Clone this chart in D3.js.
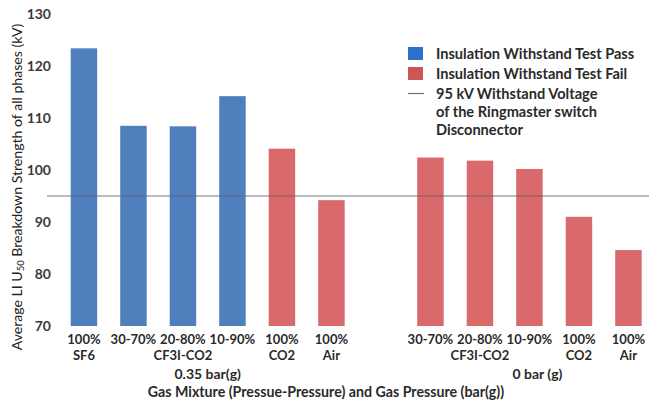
<!DOCTYPE html>
<html><head><meta charset="utf-8">
<script src="https://cdn.jsdelivr.net/npm/d3@7"></script>
<style>
body{margin:0;background:#fff;}
svg{display:block;font-family:Lato,"Open Sans",sans-serif;}
</style></head>
<body>
<svg id="c" width="649" height="406"></svg>
<script>
// Data
const slots = ["a0","a1","a2","a3","a4","a5","gap","b0","b1","b2","b3","b4"];
const bars = [
  {slot:"a0", line1:"100%",   line2:"SF6",  value:123.4, pass:true},
  {slot:"a1", line1:"30-70%", line2:"",     value:108.5, pass:true},
  {slot:"a2", line1:"20-80%", line2:"CF3I-CO2", value:108.4, pass:true},
  {slot:"a3", line1:"10-90%", line2:"",     value:114.2, pass:true},
  {slot:"a4", line1:"100%",   line2:"CO2",  value:104.1, pass:false},
  {slot:"a5", line1:"100%",   line2:"Air",  value:94.2,  pass:false},
  {slot:"b0", line1:"30-70%", line2:"",     value:102.4, pass:false},
  {slot:"b1", line1:"20-80%", line2:"CF3I-CO2", value:101.8, pass:false},
  {slot:"b2", line1:"10-90%", line2:"",     value:100.2, pass:false},
  {slot:"b3", line1:"100%",   line2:"CO2",  value:91.0,  pass:false},
  {slot:"b4", line1:"100%",   line2:"Air",  value:84.6,  pass:false}
];
const groups = [
  {label:"0.35 bar(g)", from:"a0", to:"a5", dx:0},
  {label:"0 bar (g)",   from:"b0", to:"b4", dx:8}
];
const yTicks = [70,80,90,100,110,120,130];
const withstand = 95;
const legendItems = [
  {type:"rect", color:"#2e6fc9", lines:["Insulation Withstand Test Pass"]},
  {type:"rect", color:"#cc5656", lines:["Insulation Withstand Test Fail"]},
  {type:"line", color:"#6b7178", lines:["95 kV Withstand Voltage","of the Ringmaster switch","Disconnector"]}
];

const svg = d3.select("#c");
const x = d3.scaleBand().domain(slots).range([59.2, 653.2]).paddingInner(0.465).paddingOuter(0.2325);
const y = d3.scaleLinear().domain([70,130]).range([326,14]);

// y tick labels
svg.append("g").selectAll("text").data(yTicks).join("text")
  .attr("x",51).attr("y",d=>y(d)).attr("dy","0.35em")
  .attr("text-anchor","end").attr("font-size",14).attr("font-weight","bold").attr("fill","#3a3a3a")
  .text(d=>d);

// bars
svg.append("g").selectAll("rect").data(bars).join("rect")
  .attr("x",d=>x(d.slot)).attr("width",x.bandwidth())
  .attr("y",d=>y(d.value)).attr("height",d=>y(70)-y(d.value))
  .attr("fill",d=>d.pass?"#4f80bd":"#d9696a");

// withstand line
svg.append("line").attr("x1",47).attr("x2",649)
  .attr("y1",y(withstand)).attr("y2",y(withstand))
  .attr("stroke","#5f6468").attr("stroke-width",1).attr("opacity",0.85);

// category labels
const cat = svg.append("g").attr("font-weight","bold").attr("fill","#2a2a2a").attr("text-anchor","middle");
bars.forEach(d=>{
  const cx = x(d.slot)+x.bandwidth()/2;
  cat.append("text").attr("x",cx).attr("y",344).attr("font-size",13).text(d.line1);
  if(d.line2) cat.append("text").attr("x",cx).attr("y",360).attr("font-size",13).text(d.line2);
});
groups.forEach(g=>{
  const cx = (x(g.from)+x(g.to)+x.bandwidth())/2 + g.dx;
  cat.append("text").attr("x",cx).attr("y",379).attr("font-size",14).text(g.label);
});
cat.append("text").attr("x",326).attr("y",396.5).attr("font-size",14.2).text("Gas Mixture (Pressue-Pressure) and Gas Pressure (bar(g))");

// y axis title
const yt = svg.append("text").attr("transform","translate(22,187) rotate(-90)")
  .attr("text-anchor","middle").attr("font-size",14.1).attr("fill","#222");
yt.append("tspan").text("Average LI U");
yt.append("tspan").attr("font-size",9.5).attr("dy",2).text("50");
yt.append("tspan").attr("dy",-2).text(" Breakdown Strength of all phases (kV)");

// legend
const lg = svg.append("g").attr("font-size",14.6).attr("font-weight","bold").attr("fill","#2a2a2a");
let ly = 47;
legendItems.forEach(it=>{
  if(it.type==="rect") lg.append("rect").attr("x",408).attr("y",ly).attr("width",15).attr("height",13).attr("fill",it.color);
  else lg.append("line").attr("x1",408).attr("x2",424).attr("y1",ly+6.5).attr("y2",ly+6.5).attr("stroke",it.color).attr("stroke-width",1.2);
  const t = lg.append("text").attr("x",436).attr("y",ly+6.5).attr("dy","0.35em");
  it.lines.forEach((s,i)=>{
    t.append("tspan").attr("x",436).attr("dy",i===0?"0.35em":18).text(s);
  });
  ly += 20 + (it.lines.length-1)*18;
});
</script>
</body></html>
